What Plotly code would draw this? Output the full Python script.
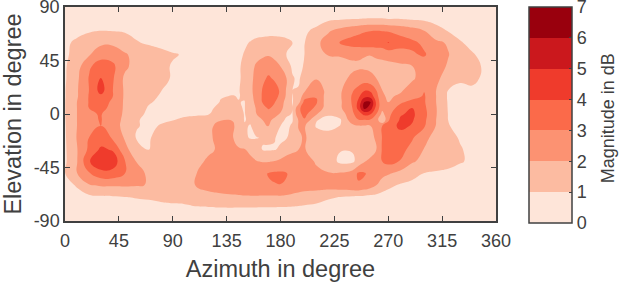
import plotly.graph_objects as go

azimuth = list(range(0, 140, 10)) + [140, 145, 150, 155, 160, 165, 170, 175, 180, 185, 190, 195, 200,
                                     210, 220, 230, 240, 245, 250, 255, 260, 265, 270,
                                     280, 290, 300, 310, 320, 330, 340, 350, 360]
elevation = [90, 80, 70, 60, 50, 40, 30, 20, 15, 10, 5, 0, -5, -10, -20, -30, -40, -50, -60, -70, -80, -90]
level_ticks = [0, 1, 2, 3, 4, 5, 6, 7]
x_ticks = [0, 45, 90, 135, 180, 225, 270, 315, 360]
y_ticks = [-90, -45, 0, 45, 90]
y_labels = ["-90", "-45", "0", "45", "90"]
palette = ["#fee5d9", "#fcbba1", "#fc9272", "#fb6a4a", "#ef3b2c", "#cb181d", "#99000d"]

magnitude = [
 [.2]*46,
 [.3,.4,.5,.6,.6,.5,.4,.4,.4,.3,.3,.3,.3,.3, .3,.35,.4,.4,.4,.4,.4,.4,.4, .4,.4,.4,.5, .6,.8,.9,.99, 1.0,1.03,1.05,1.05,1.04,1.0, 1.0,.9,.8,.7,.5,.4,.3,.3,.3],
 [.5,.7,.9,1.0,.97,.9,.8,.75,.7,.6,.5,.4,.4,.4, .4,.5,.6,.65,.7,.72,.75,.75,.75, .75,.7,.75,.85, 1.2,1.9,2.3,2.6, 2.75,2.9,2.98,3.0,2.98,2.9, 2.7,2.4,2.0,1.3,.95,.8,.6,.5,.5],
 [.8,1.2,1.5,1.8,1.8,1.5,1.05,.9,.8,.7,.6,.5,.5,.5, .6,.75,.9,1.05,1.2,1.25,1.3,1.3,1.25, 1.15,1.0,.95,.97, 1.8,2.4,3.05,3.4, 3.5,3.6,3.6,3.65,3.65,4.05, 3.4,3.2,2.8,2.2,1.9,1.05,.85,.7,.6],
 [.8,1.4,1.9,2.6,2.6,2.1,1.7,1.4,1.2,1.05,.95,.7,.6,.6, .7,.85,1.05,1.35,1.6,1.8,1.9,1.7,1.3, .97,.85,.85,1.0, 1.8,2.05,2.1,2.2, 2.15,2.05,2.02,2.1,2.2,2.4, 2.6,2.9,3.1,2.5,2.05,1.5,1.05,.85,.7],
 [.9,1.6,2.85,3.5,3.2,2.2,1.6,1.3,1.15,.95,.8,.7,.6,.7, .8,.95,1.1,1.6,2.2,2.5,2.7,2.4,2.0, 1.3,.9,.85,1.05, 1.3,1.5,1.6,1.8, 1.85,1.85,1.8,1.8,1.75,1.7, 1.8,1.97,2.5,2.4,1.9,1.5,1.15,.95,.7],
 [.9,1.8,3.05,4.05,3.1,1.8,1.4,1.2,1.15,.95,.7,.6,.5,.6, .8,.95,1.1,1.7,2.4,2.85,3.1,2.9,2.5, 2.0,1.05,.9,1.3, 1.95,1.4,1.7,2.2, 2.4,2.4,2.25,2.0,1.8,1.7, 1.6,1.9,2.3,2.2,1.6,1.1,1.15,.9,.7],
 [.95,1.9,3.0,4.4,3.0,1.85,1.5,1.2,1.02,.8,.6,.5,.6,.7, .85,.97,1.15,1.8,2.4,3.05,3.4,3.3,2.9, 1.9,1.0,1.05,1.9, 2.5,1.7,1.85,2.9, 3.3,3.9,3.8,3.0,2.0,1.7, 1.9,2.3,2.95,2.0,1.0,.85,.9,.7,.65],
 [.95,1.9,3.05,3.8,3.0,1.85,1.55,1.15,.95,.75,.6,.5,.7,.95, 1.03,.97,1.1,1.7,2.4,3.1,3.5,3.3,2.8, 1.85,.98,1.2,2.6, 2.95,1.4,1.9,3.1, 3.8,4.6,4.6,3.4,2.1,1.9, 2.1,2.6,3.1,2.0,.9,.8,.8,.7,.65],
 [.97,2.0,3.05,3.5,2.8,1.85,1.4,1.05,.9,.7,.55,.5,.55,1.05, 1.15,1.02,.97,1.6,2.3,3.05,3.4,3.05,2.5, 1.6,.95,1.6,3.3, 3.1,1.3,1.85,3.1, 4.2,6.0,6.1,3.8,2.2,2.0, 2.8,3.3,3.1,2.0,.93,.75,.75,.7,.65],
 [.97,2.0,3.0,3.3,2.7,1.85,1.25,.95,.8,.75,.6,.55,.85,1.2, 1.3,1.05,.97,1.5,2.1,2.7,3.1,2.8,2.3, 1.5,1.0,2.7,3.6, 2.8,1.35,1.85,3.0, 4.3,6.3,5.6,3.6,2.3,2.4, 3.4,4.0,3.2,2.05,.95,.75,.75,.7,.65],
 [.97,2.0,2.9,3.05,2.5,1.85,1.15,.9,.85,.85,.9,.92,.95,1.6, 1.7,1.2,.97,1.3,2.0,2.4,2.6,2.35,1.9, 1.1,.97,2.7,3.3, 2.1,1.1,1.4,2.8, 3.5,4.3,4.1,3.0,1.7,2.7, 3.9,4.2,3.3,2.05,.98,.8,.75,.7,.65],
 [.95,2.0,2.8,3.05,2.4,1.8,1.05,.85,.9,.98,1.1,1.2,1.4,1.95, 1.95,1.3,.97,1.1,1.7,2.0,2.2,1.8,1.2, .9,.95,2.05,2.9, 1.05,.75,.9,2.6, 2.95,2.95,2.9,2.5,.97,2.9, 4.1,4.1,3.2,2.0,1.0,.8,.75,.7,.65],
 [.93,2.0,2.9,3.0,2.3,1.8,1.05,.85,1.05,1.25,1.4,1.5,1.8,2.3, 2.2,1.5,1.05,.97,1.35,1.8,2.05,1.5,1.0, .85,1.1,2.05,2.1, .9,.8,1.02,1.7, 1.95,1.95,1.95,2.95,3.0,3.3, 4.3,3.9,3.1,1.95,1.03,.85,.75,.7,.65],
 [.9,2.05,3.0,3.4,2.9,1.9,.9,.93,1.3,1.45,1.55,1.7,1.85,2.3, 2.05,1.6,1.15,.93,.97,1.05,1.1,1.02,.9, .95,1.4,1.85,2.1, 1.5,1.3,1.2,1.3, 1.35,1.4,1.6,2.2,3.05,3.3, 3.4,3.1,2.3,1.6,1.2,.95,.8,.7,.65],
 [.87,1.95,3.2,4.2,3.9,2.3,1.4,1.0,1.3,1.4,1.6,1.75,1.9,2.1, 2.15,2.1,2.05,1.8,1.4,.97,.93,.97,1.1, 1.6,1.8,2.0,2.05, 1.6,1.35,1.05,1.05, 1.3,1.4,1.6,2.0,3.1,3.3, 3.3,2.7,1.95,1.5,1.2,1.05,.85,.75,.65],
 [.85,1.95,3.9,4.9,4.6,3.05,1.95,1.7,1.65,1.7,1.75,1.85,2.1,2.4, 2.4,2.35,2.3,2.2,2.05,1.95,1.95,2.05,2.25, 2.4,2.5,2.6,2.6, 1.85,1.5,.8,.85, 1.3,1.95,2.2,2.3,3.0,3.3, 2.95,2.1,1.75,1.55,1.3,1.05,.9,.75,.65],
 [.97,1.97,2.9,3.6,3.6,3.0,2.4,1.8,1.6,1.65,1.8,2.0,2.4,2.5, 2.5,2.5,2.5,2.55,2.6,2.8,3.05,3.15,3.15, 3.05,2.7,2.6,2.5, 2.3,2.05,2.1,2.4, 3.15,3.1,2.7,2.4,2.3,2.1, 1.7,1.3,.97,.85,.8,.75,.7,.65,.6],
 [.6,1.1,1.9,2.1,2.1,2.1,2.05,1.97,1.7,1.6,1.8,2.05,2.3,2.4, 2.5,2.55,2.6,2.65,2.7,2.8,2.9,2.95,2.98, 2.9,2.7,2.6,2.5, 2.5,2.5,2.6,2.8, 2.9,2.7,2.4,2.0,1.5,1.2, .9,.75,.7,.65,.6,.55,.55,.5,.5],
 [.5,.6,.75,.85,.9,.97,1.05,1.1,1.2,1.3,1.35,1.5,1.7,1.8, 1.85,1.87,1.9,1.9,1.9,1.87,1.85,1.85,1.85, 1.8,1.7,1.6,1.5, 1.35,1.1,.97,.85, .8,.75,.7,.65,.6,.6, .55,.5,.5,.45,.45,.4,.4,.4,.4],
 [.35,.35,.4,.45,.5,.55,.6,.65,.7,.72,.75,.85,.85,.88, .88,.87,.85,.85,.85,.85,.85,.84,.82, .82,.8,.78,.75, .7,.6,.55,.5, .48,.45,.45,.4,.4,.4, .4,.35,.35,.3,.3,.3,.3,.3,.3],
 [.2]*46,
]
for r in magnitude:
    assert len(r) == len(azimuth), (len(r), r[:3])

scale = []
n = len(palette)
for i, c in enumerate(palette):
    scale += [[i / n, c], [(i + 1) / n, c]]

INK = "#404040"
FONT = "Liberation Sans"

fig = go.Figure(go.Contour(
    x=azimuth, y=elevation[::-1], z=magnitude[::-1],
    zmin=0, zmax=7, colorscale=scale, autocontour=False,
    contours=dict(start=0, end=7, size=1, coloring="fill", showlines=False),
    line=dict(width=0, smoothing=1.3),
    hoverinfo="skip",
    colorbar=dict(
        lenmode="pixels", len=216, thickness=43, thicknessmode="pixels",
        x=1.0764, xanchor="left", xpad=0, y=-0.0093, yanchor="bottom", ypad=0,
        outlinecolor=INK, outlinewidth=1.5, borderwidth=0,
        tickmode="array", tickvals=level_ticks, ticks="inside", ticklen=3, tickcolor=INK,
        ticklabeloverflow="allow", tickprefix="\u00a0",
        tickfont=dict(family=FONT, size=18, color=INK),
    ),
))
axis = dict(showgrid=False, zeroline=False, showline=True, linecolor=INK, linewidth=1.5,
            mirror="ticks", ticks="inside", ticklen=5, tickcolor=INK, tickwidth=1,
            ticklabeloverflow="allow",
            tickfont=dict(family=FONT, size=18, color=INK), tickmode="array")
fig.update_xaxes(range=[0, 360], tickvals=x_ticks, ticklabelstandoff=3,
                 title=dict(text="Azimuth in degree", font=dict(family=FONT, size=23.5, color=INK), standoff=10), **axis)
fig.update_yaxes(range=[-90, 90], tickvals=y_ticks, ticktext=y_labels,
                 title=dict(text="Elevation in degree", font=dict(family=FONT, size=23.5, color=INK), standoff=8), **axis)
fig.add_annotation(text="Magnitude in dB", textangle=-90, xref="paper", yref="paper",
                   x=1.26, y=0.48, showarrow=False, xanchor="center", yanchor="middle",
                   font=dict(family=FONT, size=18, color=INK))
fig.update_layout(width=628, height=284, margin=dict(l=65, r=132, t=7, b=63, autoexpand=False),
                  paper_bgcolor="white", plot_bgcolor=palette[0], showlegend=False)
fig.write_html("out.html", config={"displayModeBar": False},
               post_script="document.body.style.margin='0';")
